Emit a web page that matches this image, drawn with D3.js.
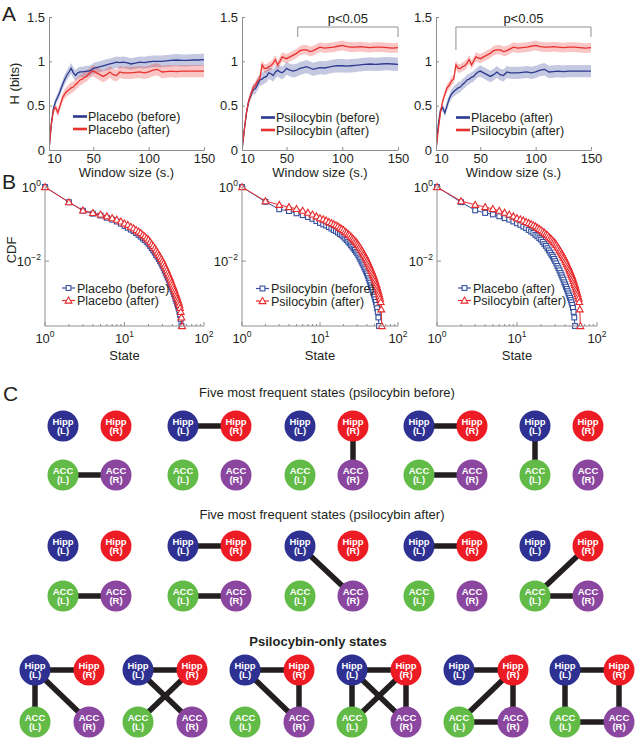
<!DOCTYPE html>
<html><head><meta charset="utf-8">
<script src="https://cdn.jsdelivr.net/npm/d3@7"></script>
<style>body{margin:0;background:#fff}svg{display:block}text{font-family:"Liberation Sans",Arial,sans-serif}</style>
</head><body><svg id="c" width="635" height="740"></svg>
<script>
// ---------------- DATA ----------------
const windowSize = [10,12,14,16,18,20,22,24,26,28,30,32,34,36,38,40,42,44,46,48,50,53,56,59,62,65,68,71,74,77,80,84,88,92,96,100,104,108,112,116,120,125,130,135,140,145,150];
const hPlaceboBefore = [0,0.28,0.47,0.55,0.6,0.66,0.73,0.79,0.84,0.88,0.92,0.87,0.84,0.87,0.88,0.88,0.885,0.89,0.89,0.9,0.92,0.93,0.94,0.95,0.96,0.97,0.98,0.99,0.985,0.99,0.985,0.97,0.98,0.99,0.985,0.995,1.0,1.0,1.0,1.005,1.01,1.015,1.01,1.01,1.015,1.015,1.02];
const hPlaceboAfter = [0,0.28,0.45,0.48,0.42,0.5,0.58,0.63,0.66,0.68,0.7,0.71,0.74,0.76,0.79,0.8,0.82,0.83,0.86,0.88,0.89,0.87,0.85,0.83,0.85,0.88,0.85,0.84,0.88,0.87,0.87,0.87,0.875,0.88,0.87,0.88,0.9,0.91,0.88,0.885,0.89,0.885,0.89,0.89,0.89,0.89,0.89];
const hPsiBefore = [0,0.22,0.42,0.55,0.62,0.68,0.69,0.74,0.79,0.8,0.82,0.83,0.87,0.86,0.84,0.88,0.9,0.88,0.87,0.89,0.92,0.9,0.89,0.9,0.92,0.93,0.94,0.925,0.91,0.92,0.93,0.925,0.935,0.945,0.95,0.95,0.945,0.95,0.955,0.96,0.965,0.97,0.965,0.97,0.975,0.97,0.965];
const hPsiAfter = [0,0.22,0.42,0.55,0.63,0.7,0.73,0.78,0.8,0.96,0.92,0.92,0.94,0.95,0.98,1.02,0.96,1.0,1.05,1.04,1.03,1.05,1.07,1.09,1.12,1.13,1.13,1.11,1.12,1.14,1.16,1.15,1.155,1.16,1.17,1.18,1.165,1.16,1.16,1.165,1.16,1.155,1.16,1.16,1.155,1.15,1.155];
const semPlaceboBefore = [0,0.02,0.03,0.04,0.045,0.05,0.05,0.055,0.055,0.06,0.06,0.06,0.06,0.06,0.06,0.06,0.06,0.06,0.06,0.06,0.06,0.062,0.062,0.062,0.063,0.063,0.063,0.064,0.064,0.064,0.065,0.065,0.065,0.065,0.066,0.066,0.066,0.066,0.067,0.067,0.067,0.068,0.068,0.068,0.068,0.068,0.068];
const semPlaceboAfter = [0,0.02,0.03,0.04,0.045,0.05,0.05,0.055,0.055,0.06,0.06,0.06,0.06,0.06,0.06,0.06,0.06,0.06,0.06,0.06,0.065,0.065,0.065,0.065,0.066,0.066,0.066,0.067,0.067,0.067,0.068,0.068,0.068,0.068,0.069,0.069,0.069,0.07,0.07,0.07,0.07,0.07,0.07,0.07,0.07,0.07,0.07];
const semPsiBefore = [0,0.02,0.03,0.04,0.05,0.055,0.06,0.065,0.065,0.07,0.07,0.07,0.07,0.07,0.07,0.07,0.07,0.07,0.072,0.072,0.072,0.072,0.073,0.073,0.073,0.074,0.074,0.074,0.075,0.075,0.075,0.075,0.075,0.075,0.075,0.075,0.075,0.075,0.075,0.075,0.075,0.075,0.075,0.075,0.075,0.075,0.075];
const semPsiAfter = [0,0.02,0.03,0.035,0.04,0.045,0.045,0.05,0.05,0.05,0.05,0.05,0.05,0.05,0.05,0.05,0.05,0.05,0.052,0.052,0.052,0.053,0.053,0.053,0.054,0.054,0.054,0.055,0.055,0.055,0.055,0.055,0.055,0.055,0.055,0.055,0.055,0.055,0.055,0.055,0.055,0.055,0.055,0.055,0.055,0.055,0.055];
const sigStart = [null, 60, 28];
const sigEnd = [null, 150, 150];
const hTicksX = [10,50,100,150];
const hTicksY = [0,0.5,1,1.5];

// CDF values, read as powers of ten (log10 of CDF) for states 1..N
const cdfExpPlaceboBefore = [0,-0.41,-0.64,-0.72,-0.77,-0.83,-0.88,-0.93,-0.99,-1.05,-1.10,-1.15,-1.19,-1.24,-1.29,-1.34,-1.39,-1.43,-1.48,-1.53,-1.59,-1.65,-1.71,-1.77,-1.83,-1.88,-1.94,-2.00,-2.06,-2.12,-2.18,-2.25,-2.31,-2.38,-2.44,-2.50,-2.57,-2.63,-2.70,-2.76,-2.82,-2.89,-2.95,-3.02,-3.08,-3.15,-3.21,-3.28,-3.36,-3.45,-3.57,-3.75];
const cdfExpPlaceboAfter = [0,-0.41,-0.63,-0.70,-0.74,-0.79,-0.84,-0.88,-0.93,-0.98,-1.02,-1.07,-1.11,-1.16,-1.20,-1.24,-1.29,-1.33,-1.38,-1.42,-1.48,-1.54,-1.59,-1.65,-1.71,-1.77,-1.83,-1.88,-1.94,-2.00,-2.06,-2.13,-2.19,-2.25,-2.32,-2.38,-2.44,-2.50,-2.57,-2.63,-2.69,-2.75,-2.81,-2.87,-2.93,-2.99,-3.05,-3.11,-3.18,-3.26,-3.37,-3.52,-3.75];
const cdfExpPsiBefore = [0,-0.40,-0.60,-0.65,-0.71,-0.76,-0.81,-0.86,-0.92,-0.97,-1.01,-1.04,-1.08,-1.12,-1.16,-1.19,-1.23,-1.27,-1.30,-1.34,-1.39,-1.43,-1.48,-1.52,-1.57,-1.61,-1.66,-1.70,-1.75,-1.79,-1.84,-1.90,-1.95,-2.01,-2.06,-2.11,-2.17,-2.22,-2.28,-2.33,-2.39,-2.46,-2.52,-2.58,-2.65,-2.71,-2.77,-2.83,-2.90,-2.96,-3.03,-3.10,-3.18,-3.27,-3.37,-3.52,-3.75];
const cdfExpPsiAfter = [0,-0.38,-0.48,-0.54,-0.59,-0.64,-0.69,-0.74,-0.79,-0.84,-0.87,-0.90,-0.94,-0.97,-1.00,-1.03,-1.06,-1.10,-1.13,-1.16,-1.20,-1.23,-1.27,-1.30,-1.34,-1.38,-1.41,-1.45,-1.48,-1.52,-1.56,-1.61,-1.65,-1.70,-1.74,-1.79,-1.83,-1.88,-1.92,-1.97,-2.02,-2.07,-2.12,-2.17,-2.22,-2.27,-2.32,-2.37,-2.42,-2.47,-2.53,-2.59,-2.64,-2.70,-2.76,-2.82,-2.88,-2.94,-3.01,-3.10,-3.30,-3.75];
const cdfTicksX = [1,10,100];
const cdfTicksY = [1,0.01];
const cdfExpTicksX = ['0','1','2'];
const cdfExpTicksY = ['0','\u22122'];

// Panel C: brain-state graphs
const regionIds = ['HL','HR','AL','AR'];
const regionLabel = {HL:['Hipp','(L)'], HR:['Hipp','(R)'], AL:['ACC','(L)'], AR:['ACC','(R)']};
const regionColor = {HL:'#2e3192', HR:'#ed1c24', AL:'#62bb46', AR:'#8b47a0'};
const statesBefore = [[['AL','AR']], [['HL','HR']], [['HR','AR']], [['HL','HR'],['AL','AR']], [['HL','AL']]];
const statesAfter = [[['AL','AR']], [['HL','HR'],['AL','AR']], [['HL','AR']], [['HL','HR']], [['HR','AL'],['AL','AR']]];
const statesPsiOnly = [
  [['HL','HR'],['HL','AL'],['HL','AR']],
  [['HL','HR'],['HL','AR'],['HR','AL']],
  [['HL','HR'],['HL','AR'],['HR','AR']],
  [['HL','HR'],['HL','AL'],['HR','AR'],['HL','AR'],['HR','AL']],
  [['HL','HR'],['HR','AL'],['HR','AR'],['AL','AR']],
  [['HL','HR'],['HL','AL'],['HR','AR'],['AL','AR']]
];
const titleBefore = 'Five most frequent states (psilocybin before)';
const titleAfter = 'Five most frequent states (psilocybin after)';
const titlePsiOnly = 'Psilocybin-only states';

// ---------------- DRAWING ----------------
const svg = d3.select('#c');
const ink = '#231f20', axisCol = '#8f8f8f';
const blue = '#2b3990', red = '#e8312f';
const mkBlue = '#34509f', mkRed = '#e82a2d';
const FS = 13, LFS = 12.5;

function series(h, s){ return windowSize.map((w,i)=>({w, v:h[i], s:s[i]})); }
const SER = {
  pb: {d: series(hPlaceboBefore, semPlaceboBefore), c: blue},
  pa: {d: series(hPlaceboAfter, semPlaceboAfter), c: red},
  pa2:{d: series(hPlaceboAfter, semPlaceboAfter), c: blue},
  sb: {d: series(hPsiBefore, semPsiBefore), c: blue},
  sa: {d: series(hPsiAfter, semPsiAfter), c: red}
};

// panel letters
[['A',2,21],['B',2,189],['C',3,401]].forEach(([t,x,y])=>svg.append('text').attr('x',x).attr('y',y).attr('font-size',21).attr('fill',ink).text(t));

// ---- Panel A ----
const aX0=[49,242,436], aX1=[204,398,591], aTop=17, aBot=150;
const aCfg = [
  {s:['pb','pa'], labels:['Placebo (before)','Placebo (after)'], leg:[73,116.5,129]},
  {s:['sb','sa'], labels:['Psilocybin (before)','Psilocybin (after)'], leg:[261,117.5,130]},
  {s:['pa2','sa'], labels:['Placebo (after)','Psilocybin (after)'], leg:[456,117.5,130]}
];
aCfg.forEach((cfg,i)=>{
  const x = d3.scaleLinear().domain([10,150]).range([aX0[i],aX1[i]]);
  const y = d3.scaleLinear().domain([0,1.5]).range([aBot,aTop]);
  const g = svg.append('g');
  const cid = 'clipA'+i;
  svg.append('clipPath').attr('id',cid).append('rect').attr('x',aX0[i]).attr('y',aTop).attr('width',aX1[i]-aX0[i]).attr('height',aBot-aTop);
  const area = d3.area().x(d=>x(d.w)).y0(d=>y(d.v-d.s)).y1(d=>y(d.v+d.s));
  const line = d3.line().x(d=>x(d.w)).y(d=>y(d.v));
  cfg.s.forEach(k=>g.append('path').attr('d',area(SER[k].d)).attr('fill',SER[k].c).attr('fill-opacity',0.28).attr('clip-path',`url(#${cid})`));
  cfg.s.forEach(k=>g.append('path').attr('d',line(SER[k].d)).attr('fill','none').attr('stroke',SER[k].c).attr('stroke-width',1.3).attr('clip-path',`url(#${cid})`));
  // axes
  const ax = g.append('g').attr('transform',`translate(0,${aBot})`).call(d3.axisBottom(x).tickValues(hTicksX).tickSizeInner(-3).tickSizeOuter(0).tickPadding(4));
  const ay = g.append('g').attr('transform',`translate(${aX0[i]},0)`).call(d3.axisLeft(y).tickValues(hTicksY).tickFormat(d3.format('')).tickSizeInner(-3).tickSizeOuter(0).tickPadding(4));
  [ax,ay].forEach(a=>{a.selectAll('path,line').attr('stroke',axisCol); a.selectAll('text').attr('font-size',FS).attr('fill',ink).attr('font-family','"Liberation Sans",Arial,sans-serif');});
  ax.selectAll('.tick').filter(d=>d===10).select('text').attr('dx',5);
  g.append('text').attr('x',(aX0[i]+aX1[i])/2).attr('y',177).attr('text-anchor','middle').attr('font-size',FS).attr('fill',ink).text('Window size (s.)');
  if(i===0) g.append('text').attr('transform',`translate(19,${(aTop+aBot)/2}) rotate(-90)`).attr('text-anchor','middle').attr('font-size',FS).attr('fill',ink).text('H (bits)');
  // legend
  const [lx,ly1,ly2] = cfg.leg;
  [[ly1,0],[ly2,1]].forEach(([ly,j])=>{
    g.append('line').attr('x1',lx).attr('x2',lx+14).attr('y1',ly).attr('y2',ly).attr('stroke',SER[cfg.s[j]].c).attr('stroke-width',2.6);
    g.append('text').attr('x',lx+15).attr('y',ly+4.5).attr('font-size',LFS).attr('fill',ink).text(cfg.labels[j]);
  });
  // significance bracket
  if(sigStart[i]!==null){
    const xs=x(sigStart[i]), xe=x(sigEnd[i]), yb=27;
    const leftDrop = i===2 ? 50 : 37;
    g.append('path').attr('d',`M${xs},${leftDrop}V${yb}H${xe}V37`).attr('fill','none').attr('stroke',axisCol).attr('stroke-width',1);
    g.append('text').attr('x',(xs+xe)/2).attr('y',23).attr('text-anchor','middle').attr('font-size',FS).attr('fill',ink).text('p<0.05');
  }
});

// ---- Panel B ----
const bX0=[45,242,437], bX1=[204,398,597], bTop=187, bBot=326;
const CDF = {
  pb:{v:cdfExpPlaceboBefore.map(e=>10**e), c:mkBlue, m:'sq'},
  pa:{v:cdfExpPlaceboAfter.map(e=>10**e), c:mkRed, m:'tri'},
  pa2:{v:cdfExpPlaceboAfter.map(e=>10**e), c:mkBlue, m:'sq'},
  sb:{v:cdfExpPsiBefore.map(e=>10**e), c:mkBlue, m:'sq'},
  sa:{v:cdfExpPsiAfter.map(e=>10**e), c:mkRed, m:'tri'}
};
const bCfg = [
  {s:['pb','pa'], labels:['Placebo (before)','Placebo (after)'], leg:[62,288,300.5]},
  {s:['sb','sa'], labels:['Psilocybin (before)','Psilocybin (after)'], leg:[256,288.5,301]},
  {s:['pa2','sa'], labels:['Placebo (after)','Psilocybin (after)'], leg:[458,288,300.5]}
];
function marker(g, type, cx, cy, col){
  if(type==='sq') g.append('rect').attr('x',cx-2.4).attr('y',cy-2.4).attr('width',4.8).attr('height',4.8).attr('fill','#fff').attr('stroke',col).attr('stroke-width',1.1);
  else g.append('path').attr('d',`M${cx},${cy-3.4}L${cx+3.4},${cy+2.6}L${cx-3.4},${cy+2.6}Z`).attr('fill','#fff').attr('stroke',col).attr('stroke-width',1.1);
}
const yMin = 10**-3.75;
bCfg.forEach((cfg,i)=>{
  const x = d3.scaleLog().domain([1,100]).range([bX0[i],bX1[i]]);
  const y = d3.scaleLog().domain([yMin,1]).range([bBot,bTop]);
  const g = svg.append('g');
  cfg.s.forEach(k=>{
    const pts = CDF[k].v.map((v,j)=>({s:j+1, v}));
    g.append('path').attr('d',d3.line().x(d=>x(d.s)).y(d=>y(d.v))(pts)).attr('fill','none').attr('stroke',CDF[k].c).attr('stroke-width',1);
    const mg = g.append('g');
    pts.forEach(d=>marker(mg, CDF[k].m, x(d.s), y(d.v), CDF[k].c));
  });
  // axes
  g.append('line').attr('x1',bX0[i]).attr('x2',bX1[i]).attr('y1',bBot).attr('y2',bBot).attr('stroke',axisCol);
  g.append('line').attr('x1',bX0[i]).attr('x2',bX0[i]).attr('y1',bTop).attr('y2',bBot).attr('stroke',axisCol);
  const minor = [];
  [1,10].forEach(dec=>{for(let m=2;m<=9;m++) minor.push(dec*m);});
  minor.forEach(v=>g.append('line').attr('x1',x(v)).attr('x2',x(v)).attr('y1',bBot).attr('y2',bBot-2).attr('stroke',axisCol));
  cdfTicksX.forEach((v,j)=>{
    g.append('line').attr('x1',x(v)).attr('x2',x(v)).attr('y1',bBot).attr('y2',bBot-4).attr('stroke',axisCol);
    const t = g.append('text').attr('x',x(v)).attr('y',343).attr('text-anchor','middle').attr('font-size',FS).attr('fill',ink);
    t.append('tspan').text('10');
    t.append('tspan').attr('dy',-6).attr('font-size',8.5).text(cdfExpTicksX[j]);
  });
  cdfTicksY.forEach((v,j)=>{
    g.append('line').attr('x1',bX0[i]).attr('x2',bX0[i]+4).attr('y1',y(v)).attr('y2',y(v)).attr('stroke',axisCol);
    const t = g.append('text').attr('x',bX0[i]-4).attr('y',y(v)+5).attr('text-anchor','end').attr('font-size',FS).attr('fill',ink);
    t.append('tspan').text('10');
    t.append('tspan').attr('dy',-6).attr('font-size',8.5).text(cdfExpTicksY[j]);
  });
  g.append('text').attr('x',(bX0[i]+bX1[i])/2).attr('y',360).attr('text-anchor','middle').attr('font-size',FS).attr('fill',ink).text('State');
  if(i===0) g.append('text').attr('transform',`translate(16,250) rotate(-90)`).attr('text-anchor','middle').attr('font-size',FS).attr('fill',ink).text('CDF');
  const [lx,ly1,ly2] = cfg.leg;
  [[ly1,0],[ly2,1]].forEach(([ly,j])=>{
    const k = cfg.s[j];
    g.append('line').attr('x1',lx).attr('x2',lx+13).attr('y1',ly).attr('y2',ly).attr('stroke',CDF[k].c).attr('stroke-width',1.2);
    marker(g, CDF[k].m, lx+6.5, ly, CDF[k].c);
    g.append('text').attr('x',lx+15).attr('y',ly+4.5).attr('font-size',LFS).attr('fill',ink).text(cfg.labels[j]);
  });
});

// ---- Panel C ----
const cRows = [
  {states: statesBefore, gx:[63,183,300,419,535], hy:426, ay:475, dx:53, title:titleBefore, ty:397, tx:327, bold:false},
  {states: statesAfter, gx:[63,183,300,419,535], hy:546, ay:596, dx:53, title:titleAfter, ty:519, tx:322, bold:false},
  {states: statesPsiOnly, gx:[35,138,245,352,459,565], hy:670, ay:722, dx:54, title:titlePsiOnly, ty:646, tx:318, bold:true}
];
const R = 15.5;
cRows.forEach(row=>{
  svg.append('text').attr('x',row.tx).attr('y',row.ty).attr('text-anchor','middle').attr('font-size',13).attr('font-weight',row.bold?'bold':'normal').attr('fill',ink).text(row.title);
  row.states.forEach((edges,gi)=>{
    const pos = {
      HL:[row.gx[gi], row.hy], HR:[row.gx[gi]+row.dx, row.hy],
      AL:[row.gx[gi], row.ay], AR:[row.gx[gi]+row.dx, row.ay]
    };
    const g = svg.append('g');
    edges.forEach(([a,b])=>g.append('line').attr('x1',pos[a][0]).attr('y1',pos[a][1]).attr('x2',pos[b][0]).attr('y2',pos[b][1]).attr('stroke',ink).attr('stroke-width',5.5));
    regionIds.forEach(id=>{
      const [cx,cy] = pos[id];
      g.append('circle').attr('cx',cx).attr('cy',cy).attr('r',R).attr('fill',regionColor[id]);
      g.append('text').attr('x',cx).attr('y',cy-1.5).attr('text-anchor','middle').attr('font-size',9.5).attr('font-weight','bold').attr('fill','#fff').text(regionLabel[id][0]);
      g.append('text').attr('x',cx).attr('y',cy+8).attr('text-anchor','middle').attr('font-size',9.5).attr('font-weight','bold').attr('fill','#fff').text(regionLabel[id][1]);
    });
  });
});
</script></body></html>
